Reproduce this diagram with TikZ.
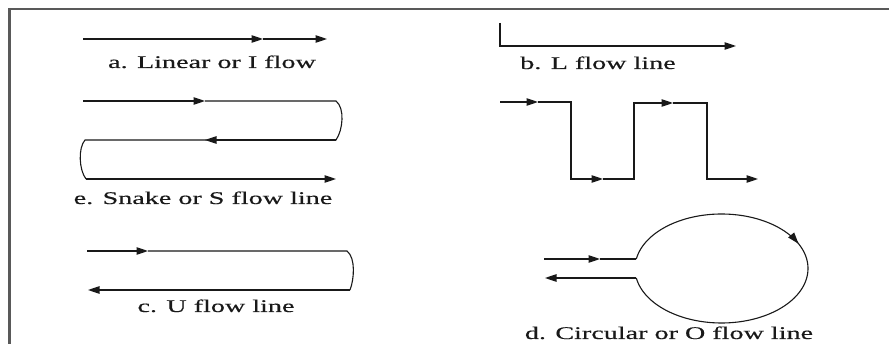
\documentclass[tikz,border=0pt]{standalone}
\usepackage{fontspec}
\setmainfont{Liberation Serif}
\newfontfamily\lblfont{Liberation Serif}[FakeStretch=1.58, FakeBold=0.4]
\usetikzlibrary{arrows.meta}
\tikzset{
  flow/.style={line width=1.1pt, black!90},
  tip/.style={flow, -{Triangle[length=11.5pt,width=7.5pt]}},
  lbl/.style={anchor=base, inner sep=0pt, text=black!90, font=\lblfont\fontsize{17.8}{20}\selectfont},
  frame/.style={line width=2.4pt, black!65}
}
\begin{document}
\begin{tikzpicture}[x=1pt,y=-1pt]
\useasboundingbox (0,0) rectangle (889,344);
% frame
\draw[frame] (9.5,344) -- (9.5,9) -- (889,9);

% a. Linear
\coordinate (a0) at (83,39);
\coordinate (a1) at (263,39);
\coordinate (a2) at (327,39);
\draw[tip] (a0) -- (a1);
\draw[tip] (a1) -- (a2);
\node[lbl] (la) at (212,68) {a. Linear or I flow};

% e. Snake
\coordinate (s0) at (83,101);
\coordinate (s1) at (205,101);
\coordinate (s2) at (336,101);
\coordinate (s3) at (336,140);
\coordinate (s4) at (205,140);
\coordinate (s5) at (85,140);
\coordinate (s6) at (86,179);
\coordinate (s7) at (336,179);
\draw[tip] (s0) -- (s1);
\draw[flow] (s1) -- (s2) .. controls (345,108) and (343,130) .. (s3) -- (s4);
\draw[tip] (s3) -- (s4);
\draw[flow] (s4) -- (s5) .. controls (78,148) and (79,170) .. (s6);
\draw[tip] (s6) -- (s7);
\node[lbl] (le) at (203,204) {e. Snake or S flow line};

% c. U
\coordinate (u0) at (87,251);
\coordinate (u1) at (148,251);
\coordinate (u2) at (347,251);
\coordinate (u3) at (350,290);
\coordinate (u4) at (88,290);
\draw[tip] (u0) -- (u1);
\draw[flow] (u1) -- (u2) .. controls (356,258) and (354,280) .. (u3);
\draw[tip] (u3) -- (u4);
\node[lbl] (lc) at (216,312) {c. U flow line};

% b. L
\coordinate (l0) at (500,23);
\coordinate (l1) at (500,46);
\coordinate (l2) at (736,46);
\draw[tip] (l0) -- (l1) -- (l2);
\node[lbl] (lb) at (598,69) {b. L flow line};

% square wave
\coordinate (w0) at (500,102);
\coordinate (w1) at (538,102);
\coordinate (w2) at (571,102);
\coordinate (w3) at (571,179);
\coordinate (w4) at (603,179);
\coordinate (w5) at (634,179);
\coordinate (w6) at (634,103);
\coordinate (w7) at (673,103);
\coordinate (w8) at (707,103);
\coordinate (w9) at (707,179);
\coordinate (w10) at (758,179);
\draw[tip] (w0) -- (w1);
\draw[tip] (w1) -- (w2) -- (w3) -- (w4);
\draw[tip] (w4) -- (w5) -- (w6) -- (w7);
\draw[tip] (w7) -- (w8) -- (w9) -- (w10);

% d. Circular
\coordinate (c0) at (544,259);
\coordinate (c1) at (600,259);
\coordinate (c2) at (636.3,259);
\coordinate (c3) at (636.3,278);
\coordinate (c4) at (545,278);
\draw[tip] (c0) -- (c1);
\draw[flow] (c1) -- (c2);
\draw[tip] plot[domain=190:333, samples=80] ({721.5+86.5*cos(\x)},{268.5+54.5*sin(\x)});
\draw[flow] plot[domain=330:530, samples=100] ({721.5+86.5*cos(\x)},{268.5+54.5*sin(\x)});
\draw[tip] (c3) -- (c4);
\node[lbl] (ld) at (669,339) {d. Circular or O flow line};
\end{tikzpicture}
\end{document}
